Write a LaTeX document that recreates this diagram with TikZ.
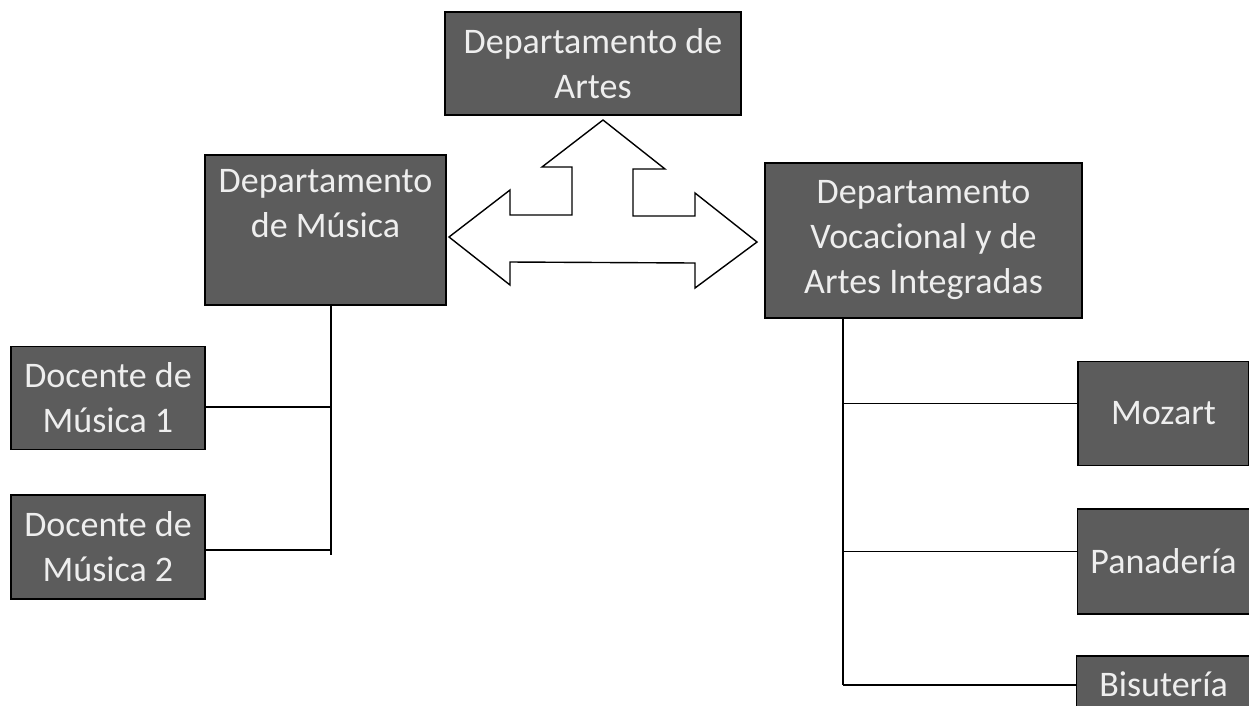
\documentclass[tikz,border=0pt]{standalone}
\usepackage{fontspec}
\setmainfont{Carlito}
\usetikzlibrary{positioning}
\definecolor{boxgray}{HTML}{5C5C5C}
\definecolor{boxtextcol}{HTML}{EEEEEE}
\tikzset{
  dept/.style={draw=black, line width=1.6pt, fill=boxgray, text=boxtextcol,
    align=center, inner sep=0pt, font=\fontsize{36}{45}\selectfont},
  depttext/.style={text=boxtextcol, align=center, inner sep=0pt,
    font=\fontsize{36}{45}\selectfont},
  link/.style={line width=1.4pt}
}
\begin{document}
\begin{tikzpicture}[x=1pt,y=-1pt]
  \useasboundingbox (0,0) rectangle (1249,705);
  \clip (0,0) rectangle (1249,705);
  \node(artes) [dept, minimum width=296, minimum height=103] at (593,63.5) {Departamento de\\Artes};
  \node(mus) [dept, minimum width=241, minimum height=150,
    label={[depttext, yshift=26pt]center:Departamento\\de Música}] at (325.5,230) {};
  \node(voc) [dept, minimum width=317, minimum height=155] at (923.5,240.5) {Departamento\\Vocacional y de\\Artes Integradas};
  \node(doc1) [dept, minimum width=194, minimum height=103] at (108,398) {Docente de\\Música 1};
  \node(doc2) [dept, minimum width=194, minimum height=104, below=44pt of doc1] {Docente de\\Música 2};
  \node(moz) [dept, minimum width=171, minimum height=104] at (1163.5,413.5) {Mozart};
  \node(pan) [dept, minimum width=172, minimum height=105, below=42pt of moz] {Panadería};
  \node(bis) [dept, minimum width=174, minimum height=57, below=40pt of pan] {Bisutería};
  \coordinate(musend) at (331,555);
  \coordinate(vocend) at (843,685);
  \draw[link] (mus.south -| musend) -- (musend);
  \draw[link] ([yshift=-9pt]doc1.east) -| (musend);
  \draw[link] ([yshift=-3pt]doc2.east) -| (musend);
  \draw[link] (voc.south -| vocend) -- (vocend);
  \draw[link] ([yshift=10pt]moz.west) -| (vocend);
  \draw[link] ([yshift=10pt]pan.west) -| (vocend);
  \draw[link] (vocend) -- (vocend -| bis.west);
  \draw[link, fill=white] (603,120) -- (665,169) -- (633,169) -- (633,216) -- (695,216)
    -- (695,193) -- (757,242) -- (695,288) -- (695,263) -- (510,262) -- (510,285)
    -- (449,237) -- (510,190) -- (510,215) -- (572,215) -- (572,167) -- (542,167) -- cycle;
\end{tikzpicture}
\end{document}
